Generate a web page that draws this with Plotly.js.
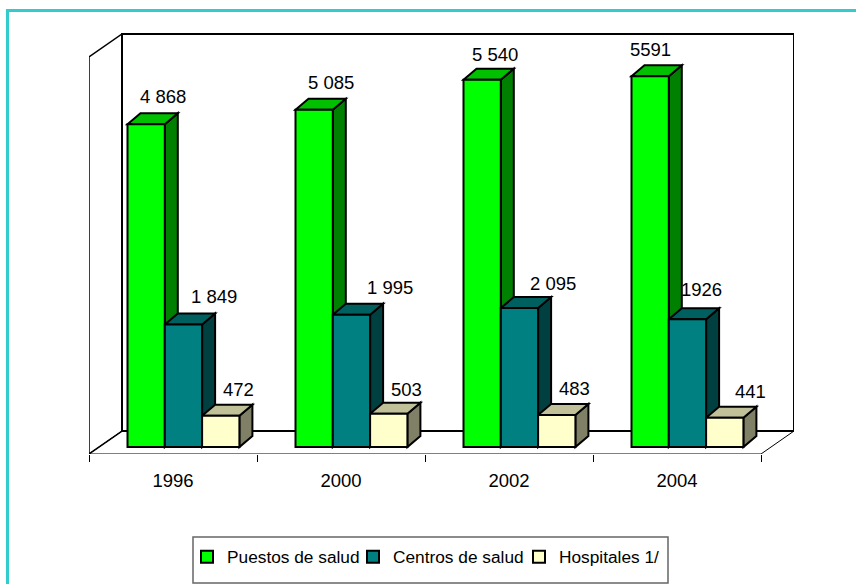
<!DOCTYPE html>
<html>
<head>
<meta charset="utf-8">
<script src="https://cdn.plot.ly/plotly-3.0.1.min.js"></script>
<style>
  html, body { margin: 0; padding: 0; background: #fff; overflow: hidden; }
  #chart { width: 856px; height: 584px; }
</style>
</head>
<body>
<div id="chart"></div>
<script>
const years = ['1996', '2000', '2002', '2004'];
const puestos = [4868, 5085, 5540, 5591];
const centros = [1849, 1995, 2095, 1926];
const hospitales = [472, 503, 483, 441];
const puestosLabels = ['4 868', '5 085', '5 540', '5591'];
const centrosLabels = ['1 849', '1 995', '2 095', '1926'];
const hospitalesLabels = ['472', '503', '483', '441'];

// px per unit of each axis, everything else is derived from these
const pxX = 168, pxY = 0.0663;
const mL = 89, mR = 62, mT = 33, mB = 130;
const W = 856, H = 584;
const plotW = W - mL - mR, plotH = H - mT - mB;

const xMin = -0.5, xMax = xMin + plotW / pxX;
const yMin = -7 / pxY, yMax = yMin + plotH / pxY;

// depth of the box and of each bar, in axis units
const wallDx = 33 / pxX, wallDy = 23 / pxY;
const barDx = 13 / pxX, barDy = 11 / pxY;
const barWidth = 37.3 / pxX;
const offsets = [-45.5 / pxX, -8.2 / pxX, 29.1 / pxX];

const series = [
  { name: 'Puestos de salud', values: puestos, labels: puestosLabels, front: '#00ff00', side: '#008000', top: '#00c000',
    shiftX: [17, 17, 13, 0], shiftY: [28, 27, 25, 27] },
  { name: 'Centros de salud', values: centros, labels: centrosLabels, front: '#008080', side: '#004040', top: '#006060',
    shiftX: [31, 39, 34, 14], shiftY: [28, 27, 25, 30] },
  { name: 'Hospitales 1/', values: hospitales, labels: hospitalesLabels, front: '#ffffcc', side: '#808066', top: '#c0c099',
    shiftX: [18, 18, 18, 26], shiftY: [26, 24, 26, 26] }
];

const poly = pts => 'M' + pts.map(p => p[0] + ',' + p[1]).join('L') + 'Z';
const lineBlack = { color: '#000', width: 2 };
const shapes = [];
const pxToPaperX = px => (px - mL) / plotW;
const pxToPaperY = px => (H - mB - px) / plotH;

// walls and floor
const xFront = xMin + 672 / pxX;
const yFloor = yMin, yRoof = yMin + 397 / pxY;
shapes.push({ type: 'path', xref: 'x', yref: 'y', layer: 'below', line: { color: '#000', width: 1.5 },
  path: poly([[xMin, yFloor], [xMin, yRoof], [xMin + wallDx, yRoof + wallDy], [xMin + wallDx, yFloor + wallDy]]) });
shapes.push({ type: 'path', xref: 'x', yref: 'y', layer: 'below', line: { color: '#000', width: 2 },
  path: poly([[xMin + wallDx, yFloor + wallDy], [xMin + wallDx, yRoof + wallDy], [xFront + wallDx, yRoof + wallDy], [xFront + wallDx, yFloor + wallDy]]) });
shapes.push({ type: 'path', xref: 'x', yref: 'y', layer: 'below', line: { color: '#000', width: 1 },
  path: poly([[xMin, yFloor], [xMin + wallDx, yFloor + wallDy], [xFront + wallDx, yFloor + wallDy], [xFront, yFloor]]) });

// side and top faces of the bars, the front face comes from the bar trace on top
years.forEach((_, i) => {
  series.forEach((s, k) => {
    const x0 = i + offsets[k], x1 = x0 + barWidth, v = s.values[i];
    shapes.push({ type: 'path', xref: 'x', yref: 'y', layer: 'below', fillcolor: s.side, line: lineBlack,
      path: poly([[x1, 0], [x1, v], [x1 + barDx, v + barDy], [x1 + barDx, barDy]]) });
    shapes.push({ type: 'path', xref: 'x', yref: 'y', layer: 'below', fillcolor: s.top, line: lineBlack,
      path: poly([[x0, v], [x0 + barDx, v + barDy], [x1 + barDx, v + barDy], [x1, v]]) });
  });
});

// outer frame (only top and left fall inside the picture) and legend box
shapes.push({ type: 'rect', xref: 'paper', yref: 'paper', layer: 'below', line: { color: '#33cccc', width: 3 },
  x0: pxToPaperX(7.5), x1: pxToPaperX(880), y0: pxToPaperY(620), y1: pxToPaperY(10.5) });
shapes.push({ type: 'rect', xref: 'paper', yref: 'paper', layer: 'below', line: { color: '#666', width: 1.5 },
  x0: pxToPaperX(193), x1: pxToPaperX(668), y0: pxToPaperY(583), y1: pxToPaperY(537) });

const traces = series.map((s, k) => ({
  type: 'bar',
  name: s.name,
  x: years.map((_, i) => i),
  y: s.values,
  width: barWidth,
  offset: offsets[k],
  marker: { color: s.front, line: { color: '#000', width: 2 } },
  hoverinfo: 'y'
}));

const annotations = [];
series.forEach((s, k) => {
  years.forEach((_, i) => {
    annotations.push({
      x: i + offsets[k] + barWidth / 2,
      y: s.values[i],
      text: s.labels[i],
      showarrow: false,
      xanchor: 'center',
      yanchor: 'middle',
      xshift: s.shiftX[i],
      yshift: s.shiftY[i],
      font: { family: 'Liberation Sans, Arial, sans-serif', size: 18.5, color: '#000' }
    });
  });
});

const layout = {
  width: W,
  height: H,
  margin: { l: mL, r: mR, t: mT, b: mB, autoexpand: false },
  paper_bgcolor: '#fff',
  plot_bgcolor: '#fff',
  barmode: 'overlay',
  showlegend: true,
  legend: {
    orientation: 'h',
    x: pxToPaperX(187),
    xanchor: 'left',
    y: pxToPaperY(539),
    yanchor: 'top',
    entrywidth: 121,
    entrywidthmode: 'pixels',
    bgcolor: 'rgba(0,0,0,0)',
    borderwidth: 0,
    font: { family: 'Liberation Sans, Arial, sans-serif', size: 17.3, color: '#000' },
    traceorder: 'normal'
  },
  xaxis: {
    range: [xMin, xMax],
    tickvals: [0, 1, 2, 3],
    ticktext: years,
    ticks: '',
    ticklabelstandoff: 13,
    showgrid: false,
    zeroline: false,
    showline: false,
    automargin: false,
    tickfont: { family: 'Liberation Sans, Arial, sans-serif', size: 18.5, color: '#000' },
    minor: { tickvals: [-0.5, 0.5, 1.5, 2.5, 3.5], ticks: 'outside', ticklen: 7, tickwidth: 1, tickcolor: '#000', showgrid: false }
  },
  yaxis: {
    range: [yMin, yMax],
    showgrid: false,
    zeroline: false,
    showline: false,
    showticklabels: false,
    ticks: ''
  },
  shapes: shapes,
  annotations: annotations
};

Plotly.newPlot('chart', traces, layout, { displayModeBar: false });
</script>
</body>
</html>
